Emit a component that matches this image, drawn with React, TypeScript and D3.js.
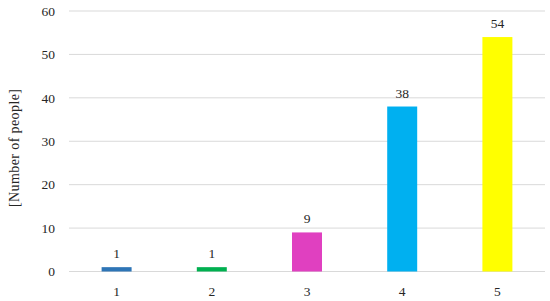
import React from 'react';
import * as d3 from 'd3';

const categories = ['1', '2', '3', '4', '5'];
const values = [1, 1, 9, 38, 54];
const barColors = ['#2e75b6', '#00b050', '#e040c0', '#00b0f0', '#ffff00'];
const yTicks = [0, 10, 20, 30, 40, 50, 60];
const yLabel = '[Number of people]';

const W = 550;
const H = 301;
const plot = { left: 69, right: 545, top: 11, bottom: 271.5 };
const font = '"Liberation Serif", "Times New Roman", serif';
const textColor = '#262626';

export default function App() {
    const x = d3
        .scaleBand<string>()
        .domain(categories)
        .range([plot.left, plot.right])
        .paddingInner(0.685)
        .paddingOuter(0.3425);
    const y = d3.scaleLinear().domain([0, 60]).range([plot.bottom, plot.top]);

    return (
        <svg
            width={W}
            height={H}
            style={{ position: 'absolute', left: 0, top: 0, background: '#fff' }}
            fontFamily={font}
        >
            {/* grid */}
            {yTicks.map((t) => (
                <g key={t}>
                    <line x1={plot.left} x2={plot.right} y1={y(t)} y2={y(t)} stroke="#d9d9d9" strokeWidth={1} />
                    <text x={55} y={y(t)} dy="0.35em" textAnchor="end" fontSize={13.5} fill={textColor}>
                        {t}
                    </text>
                </g>
            ))}

            {/* bars */}
            {categories.map((c, i) => (
                <g key={c}>
                    <rect
                        x={x(c)}
                        y={y(values[i])}
                        width={x.bandwidth()}
                        height={y(0) - y(values[i])}
                        fill={barColors[i]}
                    />
                    <text
                        x={(x(c) as number) + x.bandwidth() / 2}
                        y={y(values[i]) - 9}
                        textAnchor="middle"
                        fontSize={13.5}
                        fill={textColor}
                    >
                        {values[i]}
                    </text>
                    <text
                        x={(x(c) as number) + x.bandwidth() / 2}
                        y={296}
                        textAnchor="middle"
                        fontSize={13.5}
                        fill={textColor}
                    >
                        {c}
                    </text>
                </g>
            ))}

            <text
                transform={`translate(19, 148) rotate(-90)`}
                textAnchor="middle"
                fontSize={14}
                textLength={118}
                fill={textColor}
            >
                {yLabel}
            </text>
        </svg>
    );
}
